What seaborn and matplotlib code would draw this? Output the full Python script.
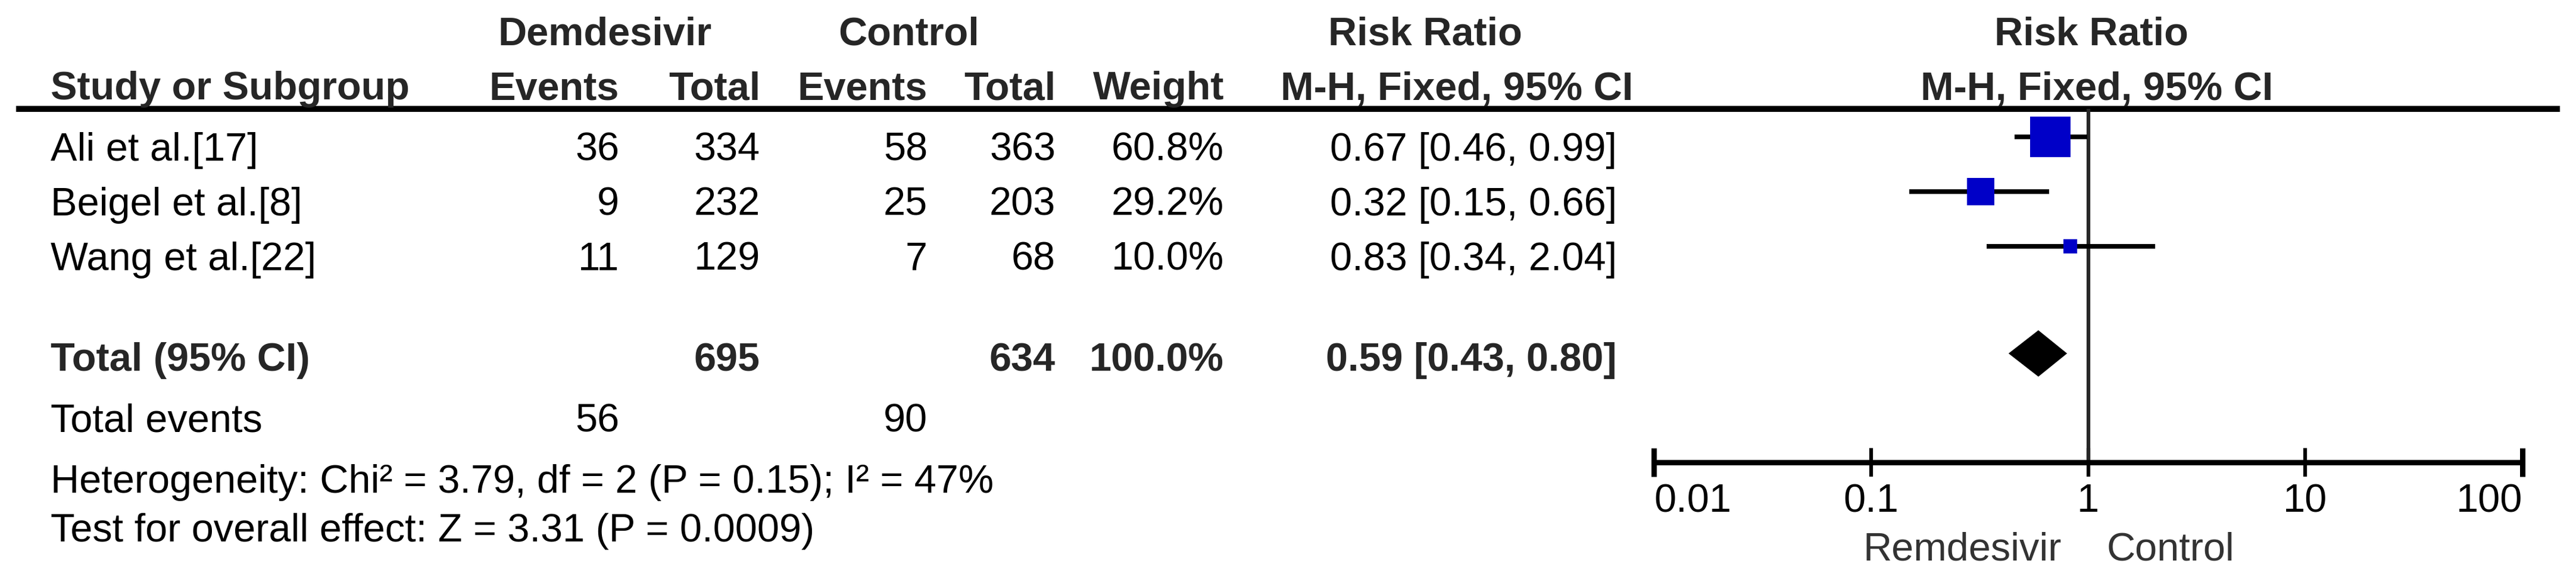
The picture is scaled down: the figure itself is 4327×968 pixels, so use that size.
import matplotlib
matplotlib.use("Agg")
import matplotlib.pyplot as plt
from matplotlib.ticker import NullLocator, FixedLocator, FixedFormatter
import seaborn as sns
import pandas as pd

# study level data
studies = ["Ali et al.[17]", "Beigel et al.[8]", "Wang et al.[22]"]
rem_events = [36, 9, 11]
rem_total = [334, 232, 129]
ctl_events = [58, 25, 7]
ctl_total = [363, 203, 68]
weights = [60.8, 29.2, 10.0]
rr = [0.67, 0.32, 0.83]
ci_low = [0.46, 0.15, 0.34]
ci_high = [0.99, 0.66, 2.04]

# pooled result
total_rem = 695
total_ctl = 634
events_rem = 56
events_ctl = 90
pooled_rr = 0.59
pooled_low = 0.43
pooled_high = 0.80
heterogeneity = "Heterogeneity: Chi\u00b2 = 3.79, df = 2 (P = 0.15); I\u00b2 = 47%"
overall_effect = "Test for overall effect: Z = 3.31 (P = 0.0009)"

tick_values = [0.01, 0.1, 1, 10, 100]
tick_labels = ["0.01", "0.1", "1", "10", "100"]
favours = ["Remdesivir", "Control"]

W, H = 4327, 968
FS = 48
HEAD = "#262626"

sns.set_style("white")
plt.rcParams["font.family"] = ["Liberation Sans", "DejaVu Sans"]

fig = plt.figure(figsize=(W / 100, H / 100), dpi=100)

# table in pixel coordinates
ax_t = fig.add_axes([0, 0, 1, 1])
ax_t.set_xlim(0, W)
ax_t.set_ylim(H, 0)
ax_t.axis("off")

x_study = 85
x_ev1, x_tot1, x_ev2, x_tot2, x_w, x_ci = 1040, 1277, 1558, 1773, 2056, 2716
line_y = 183
axis_y = 777

def txt(x, y, s, ha="right", bold=False, color="black"):
    ax_t.text(x, y, s, ha=ha, va="baseline", fontsize=FS,
              fontweight="bold" if bold else "normal", color=color)

# headers
txt(1016, 75, "Demdesivir", ha="center", bold=True, color=HEAD)
txt(1527, 75, "Control", ha="center", bold=True, color=HEAD)
txt(2394, 75, "Risk Ratio", ha="center", bold=True, color=HEAD)
txt(3513, 75, "Risk Ratio", ha="center", bold=True, color=HEAD)
txt(x_study, 167, "Study or Subgroup", ha="left", bold=True, color=HEAD)
txt(x_ev1, 167, "Events", bold=True, color=HEAD)
txt(x_tot1, 167, "Total", bold=True, color=HEAD)
txt(x_ev2, 167, "Events", bold=True, color=HEAD)
txt(x_tot2, 167, "Total", bold=True, color=HEAD)
txt(x_w, 167, "Weight", bold=True, color=HEAD)
txt(2447, 167, "M-H, Fixed, 95% CI", ha="center", bold=True, color=HEAD)
txt(3522, 167, "M-H, Fixed, 95% CI", ha="center", bold=True, color=HEAD)
ax_t.hlines(line_y, 27, 4300, color="black", lw=7.2)

row_base = [270 + 92 * i for i in range(len(studies))]
for i, name in enumerate(studies):
    y = row_base[i]
    txt(x_study, y, name, ha="left")
    txt(x_ev1, y, str(rem_events[i]))
    txt(x_tot1, y, str(rem_total[i]))
    txt(x_ev2, y, str(ctl_events[i]))
    txt(x_tot2, y, str(ctl_total[i]))
    txt(x_w, y, f"{weights[i]:.1f}%")
    txt(x_ci, y, f"{rr[i]:.2f} [{ci_low[i]:.2f}, {ci_high[i]:.2f}]")

total_y = 623
txt(x_study, total_y, "Total (95% CI)", ha="left", bold=True, color=HEAD)
txt(x_tot1, total_y, str(total_rem), bold=True, color=HEAD)
txt(x_tot2, total_y, str(total_ctl), bold=True, color=HEAD)
txt(x_w, total_y, f"{sum(weights):.1f}%", bold=True, color=HEAD)
txt(x_ci, total_y, f"{pooled_rr:.2f} [{pooled_low:.2f}, {pooled_high:.2f}]", bold=True, color=HEAD)
txt(x_study, 725, "Total events", ha="left")
txt(x_ev1, 725, str(events_rem))
txt(x_ev2, 725, str(events_ctl))
txt(x_study, 828, heterogeneity, ha="left")
txt(x_study, 910, overall_effect, ha="left")
txt(3463, 942, favours[0], color="#333333")
txt(3539, 942, favours[1], ha="left", color="#333333")

# forest panel, y in the same pixel units as the table
x0, x1 = 2778, 4237
ax_f = fig.add_axes([x0 / W, 1 - axis_y / H, (x1 - x0) / W, (axis_y - line_y) / H])
ax_f.set_facecolor("none")
ax_f.set_xscale("log")
ax_f.set_xlim(tick_values[0], tick_values[-1])
ax_f.set_ylim(axis_y, line_y)

df = pd.DataFrame({"study": studies, "rr": rr, "low": ci_low, "high": ci_high,
                   "weight": weights, "y": [b - 40 for b in row_base]})
ax_f.hlines(df["y"], df["low"], df["high"], color="black", lw=5.6, zorder=2)
sns.scatterplot(data=df, x="rr", y="y", size="weight", sizes=(275, 2400),
                marker="s", color="#0000C8", linewidth=0, legend=False,
                ax=ax_f, zorder=3)

dy = 594
dh = 39
ax_f.fill([pooled_low, pooled_rr, pooled_high, pooled_rr],
          [dy, dy - dh, dy, dy + dh], color="black", lw=0, zorder=3)
ax_f.axvline(1, color="#262626", lw=4.5, zorder=1)

for side in ["top", "left", "right"]:
    ax_f.spines[side].set_visible(False)
ax_f.spines["bottom"].set_linewidth(6.5)
ax_f.spines["bottom"].set_color("black")
ax_f.xaxis.set_major_locator(FixedLocator(tick_values))
ax_f.xaxis.set_major_formatter(FixedFormatter(tick_labels))
ax_f.xaxis.set_minor_locator(NullLocator())
ax_f.set_yticks([])
ax_f.set_xlabel("")
ax_f.set_ylabel("")
ax_f.tick_params(axis="x", direction="inout", length=34.6, width=4.5,
                 labelsize=FS, pad=8, colors="black", bottom=True)
ticks = ax_f.xaxis.get_major_ticks()
for t in (ticks[0], ticks[-1]):
    t.tick1line.set_markeredgewidth(6.5)
labels = ax_f.get_xticklabels()
labels[0].set_ha("left")
labels[-1].set_ha("right")

fig.savefig("out.png", dpi=100, facecolor="white")
